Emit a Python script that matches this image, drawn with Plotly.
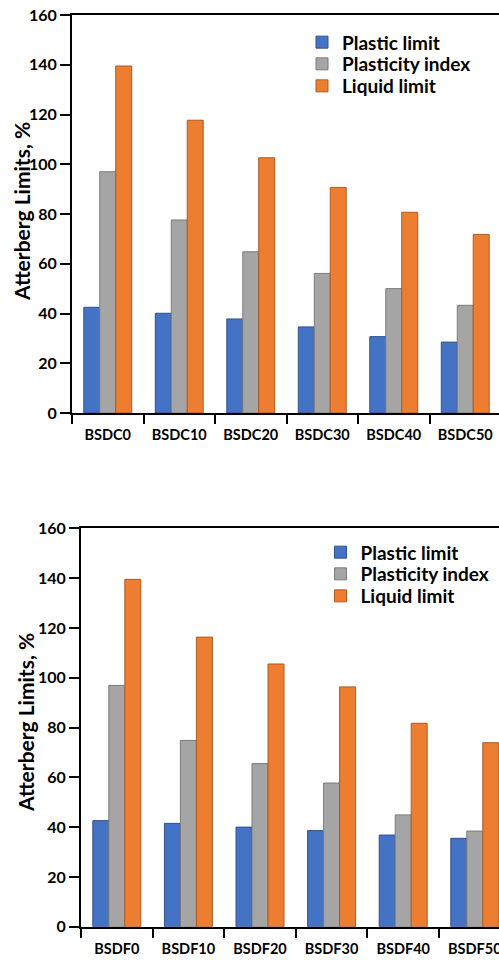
import plotly.graph_objects as go

# Atterberg limits for the two blended soil series
dc_samples = ["BSDC0", "BSDC10", "BSDC20", "BSDC30", "BSDC40", "BSDC50"]
dc_plastic_limit = [42.5, 40.1, 37.8, 34.6, 30.7, 28.5]
dc_plasticity_index = [97.0, 77.6, 64.8, 56.1, 50.0, 43.3]
dc_liquid_limit = [139.5, 117.7, 102.6, 90.7, 80.7, 71.8]

df_samples = ["BSDF0", "BSDF10", "BSDF20", "BSDF30", "BSDF40", "BSDF50"]
df_plastic_limit = [42.6, 41.5, 40.0, 38.6, 36.8, 35.5]
df_plasticity_index = [96.9, 74.8, 65.5, 57.7, 44.9, 38.4]
df_liquid_limit = [139.5, 116.3, 105.5, 96.3, 81.7, 73.9]

y_ticks = [0, 20, 40, 60, 80, 100, 120, 140, 160]

series_names = ["Plastic limit", "Plasticity index", "Liquid limit"]
fill_colors = ["#4472C4", "#A5A5A5", "#ED7D31"]
edge_colors = ["#2F528F", "#7B7B7B", "#AE5A21"]

W, H = 499, 960
FONT = "Lato"

fig = go.Figure()

# one legend per entry so the rows can sit close together
legend_ids = ["legend", "legend2", "legend3", "legend4", "legend5", "legend6"]

panels = [
    (dc_samples, [dc_plastic_limit, dc_plasticity_index, dc_liquid_limit], "x", "y", legend_ids[:3]),
    (df_samples, [df_plastic_limit, df_plasticity_index, df_liquid_limit], "x2", "y2", legend_ids[3:]),
]
for samples, series, xa, ya, lgs in panels:
    for name, vals, fc, ec, lg in zip(series_names, series, fill_colors, edge_colors, lgs):
        fig.add_trace(go.Bar(
            x=samples, y=vals, name=name,
            marker=dict(color=fc, line=dict(color=ec, width=1)),
            xaxis=xa, yaxis=ya, legend=lg,
        ))

axis_line = dict(showline=True, linecolor="black", linewidth=2, showgrid=False,
                 zeroline=False, ticks="outside", tickcolor="black", tickwidth=2,
                 automargin=False)

x_common = dict(**axis_line, type="category", tickson="boundaries", ticklen=9,
                mirror=True, ticklabelstandoff=8,
                tickfont=dict(family=FONT, size=14.5, color="black", weight="bold"))
y_common = dict(**axis_line, range=[0, 160], tickvals=y_ticks, ticklen=10,
                tickfont=dict(family=FONT, size=16, color="black", weight="bold"))

# top panel: plot area from x=72px, bottom panel from x=81px; category width ~71.5px
top_left = 72 / W
bot_left = 81 / W
top_range = [-0.5, -0.5 + (W - 72) / 71.5]
bot_range = [-0.5, -0.5 + (W - 81) / 71.6]

legend_style = dict(font=dict(family=FONT, size=19, color="black", weight="bold"),
                    bgcolor="rgba(0,0,0,0)", xanchor="left", yanchor="middle")

legend_layout = {}
top_rows = [42.3, 64.0, 86.0]
bot_rows = [552.3, 574.0, 596.0]
for lg, row in zip(legend_ids[:3], top_rows):
    legend_layout[lg] = dict(**legend_style, x=(342 - 40) / W, y=1 - row / H)
for lg, row in zip(legend_ids[3:], bot_rows):
    legend_layout[lg] = dict(**legend_style, x=(360.5 - 40) / W, y=1 - row / H)

title_font = dict(family=FONT, size=21, color="black", weight="bold")

fig.update_layout(
    width=W, height=H,
    margin=dict(l=0, r=0, t=0, b=0, autoexpand=False),
    paper_bgcolor="white", plot_bgcolor="white",
    barmode="group", bargap=0.33, bargroupgap=0,
    xaxis=dict(**x_common, domain=[top_left, 1], range=top_range, anchor="y"),
    yaxis=dict(**y_common, domain=[1 - 413 / H, 1 - 15 / H], anchor="x"),
    xaxis2=dict(**x_common, domain=[bot_left, 1], range=bot_range, anchor="y2"),
    yaxis2=dict(**y_common, domain=[1 - 926.7 / H, 1 - 528.3 / H], anchor="x2"),
    showlegend=True,
    annotations=[
        dict(text="Atterberg Limits, %", xref="paper", yref="paper",
             x=21 / W, y=1 - 212 / H, textangle=-90, showarrow=False,
             xanchor="center", yanchor="middle", font=title_font),
        dict(text="Atterberg Limits, %", xref="paper", yref="paper",
             x=25 / W, y=1 - 723 / H, textangle=-90, showarrow=False,
             xanchor="center", yanchor="middle", font=title_font),
    ],
    **legend_layout,
)

fig.write_html("out.html")
